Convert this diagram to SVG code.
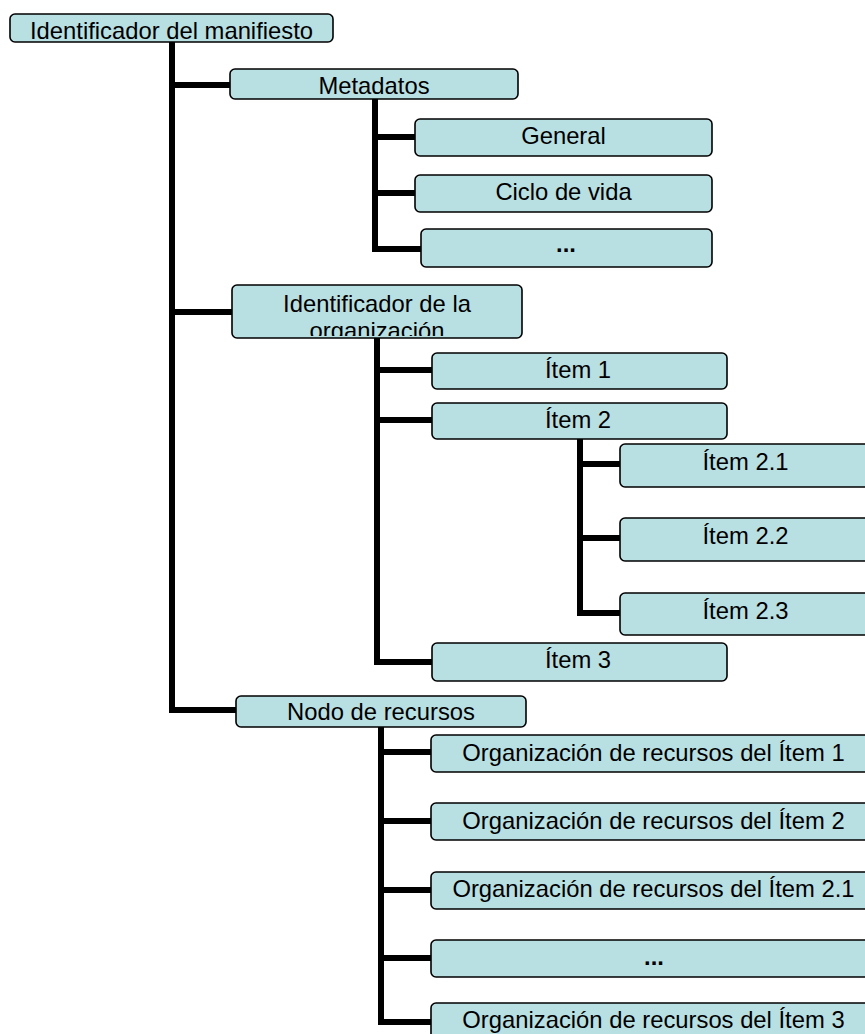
<svg xmlns="http://www.w3.org/2000/svg" width="865" height="1034" viewBox="0 0 865 1034">
  <style>
    .box { fill: #B8DFE2; stroke: #000; stroke-width: 1.6; }
    .lbl { font-family: "Liberation Sans", Arial, sans-serif; font-size: 23.8px; fill: #000; text-anchor: middle; }
    .dots { font-weight: bold; }
    .wire { fill: none; stroke: #000; stroke-width: 6; stroke-linecap: square; stroke-linejoin: miter; }
  </style>
  <defs>
    <clipPath id="clip-org">
      <rect x="233" y="286" width="288" height="50"/>
    </clipPath>
  </defs>
  <rect width="865" height="1034" fill="#fff"/>

  <!-- connectors -->
  <g id="connectors" class="wire">
    <!-- root trunk -->
    <path d="M172 43 V710 H233"/>
    <path d="M172 85 H227"/>
    <path d="M172 312 H229"/>
    <!-- metadata branch -->
    <path d="M375 100 V249 H418"/>
    <path d="M375 137 H412"/>
    <path d="M375 193 H412"/>
    <!-- organization branch -->
    <path d="M377 339 V662 H429"/>
    <path d="M377 370 H429"/>
    <path d="M377 420 H429"/>
    <!-- item 2 branch -->
    <path d="M580 440 V613 H617"/>
    <path d="M580 464 H617"/>
    <path d="M580 538 H617"/>
    <!-- resources branch -->
    <path d="M381 728 V1022 H428"/>
    <path d="M381 752 H428"/>
    <path d="M381 821 H428"/>
    <path d="M381 890 H428"/>
    <path d="M381 958 H428"/>
  </g>

  <g id="n-manifest">
    <rect class="box" x="10" y="14" width="323" height="28" rx="5"/>
    <text class="lbl" x="171.5" y="38.5">Identificador del manifiesto</text>
  </g>

  <g id="n-metadatos">
    <rect class="box" x="230" y="69" width="288" height="30" rx="5"/>
    <text class="lbl" x="374" y="93.5">Metadatos</text>
  </g>
  <g id="n-general">
    <rect class="box" x="415" y="119" width="297" height="37" rx="5"/>
    <text class="lbl" x="563.5" y="143.5">General</text>
  </g>
  <g id="n-ciclo">
    <rect class="box" x="415" y="175" width="297" height="37" rx="5"/>
    <text class="lbl" x="563.5" y="200">Ciclo de vida</text>
  </g>
  <g id="n-meta-more">
    <rect class="box" x="421" y="229" width="291" height="38" rx="5"/>
    <text class="lbl dots" x="566" y="252">...</text>
  </g>

  <g id="n-org">
    <rect class="box" x="232" y="285" width="290" height="53" rx="5"/>
    <g clip-path="url(#clip-org)">
      <text class="lbl" x="377" y="311.5">Identificador de la</text>
      <text class="lbl" x="377" y="339">organización</text>
    </g>
  </g>
  <g id="n-item1">
    <rect class="box" x="432" y="353" width="295" height="36" rx="5"/>
    <text class="lbl" x="578" y="377.5">Ítem 1</text>
  </g>
  <g id="n-item2">
    <rect class="box" x="432" y="403" width="295" height="36" rx="5"/>
    <text class="lbl" x="578" y="427.5">Ítem 2</text>
  </g>
  <g id="n-item21">
    <rect class="box" x="620" y="444" width="251" height="43" rx="5"/>
    <text class="lbl" x="745.5" y="470">Ítem 2.1</text>
  </g>
  <g id="n-item22">
    <rect class="box" x="620" y="518" width="251" height="43" rx="5"/>
    <text class="lbl" x="745.5" y="544">Ítem 2.2</text>
  </g>
  <g id="n-item23">
    <rect class="box" x="620" y="593" width="251" height="42" rx="5"/>
    <text class="lbl" x="745.5" y="618.5">Ítem 2.3</text>
  </g>
  <g id="n-item3">
    <rect class="box" x="432" y="643" width="295" height="38" rx="5"/>
    <text class="lbl" x="578" y="668">Ítem 3</text>
  </g>

  <g id="n-nodo">
    <rect class="box" x="236" y="696" width="290" height="31" rx="5"/>
    <text class="lbl" x="381" y="720">Nodo de recursos</text>
  </g>
  <g id="n-res1">
    <rect class="box" x="431" y="735" width="445" height="37" rx="5"/>
    <text class="lbl" x="653.5" y="760.5">Organización de recursos del Ítem 1</text>
  </g>
  <g id="n-res2">
    <rect class="box" x="431" y="803" width="445" height="37" rx="5"/>
    <text class="lbl" x="653.5" y="828.5">Organización de recursos del Ítem 2</text>
  </g>
  <g id="n-res21">
    <rect class="box" x="431" y="872" width="445" height="37" rx="5"/>
    <text class="lbl" x="653.5" y="897">Organización de recursos del Ítem 2.1</text>
  </g>
  <g id="n-res-more">
    <rect class="box" x="431" y="940" width="445" height="37" rx="5"/>
    <text class="lbl dots" x="654" y="965">...</text>
  </g>
  <g id="n-res3">
    <rect class="box" x="431" y="1003" width="445" height="40" rx="5"/>
    <text class="lbl" x="653.5" y="1028">Organización de recursos del Ítem 3</text>
  </g>
</svg>
